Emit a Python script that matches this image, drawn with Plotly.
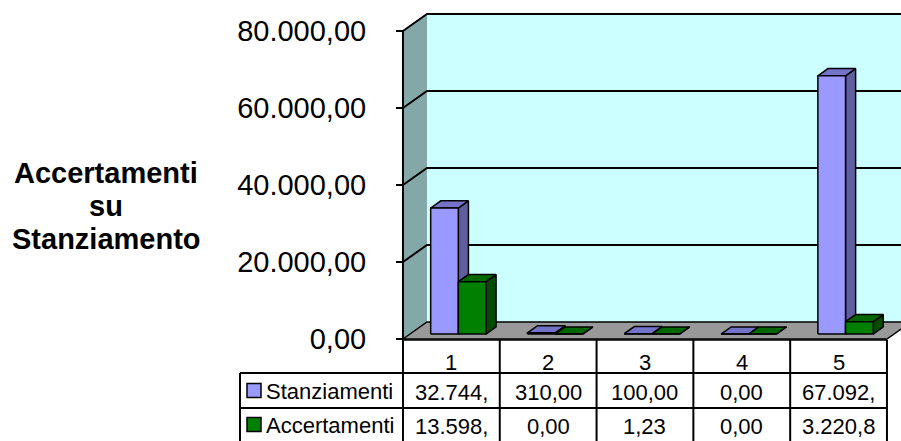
import plotly.graph_objects as go

# =========================
# DATI
# =========================
CATEGORIE = ["1", "2", "3", "4", "5"]
STANZIAMENTI = [32744.0, 310.0, 100.0, 0.0, 67092.0]
ACCERTAMENTI = [13598.0, 0.0, 1.23, 0.0, 3220.8]
ETICHETTE_STANZ = ["32.744,", "310,00", "100,00", "0,00", "67.092,"]
ETICHETTE_ACC = ["13.598,", "0,00", "1,23", "0,00", "3.220,8"]
TICK_VALORI = [0, 20000, 40000, 60000, 80000]
TICK_TESTI = ["0,00", "20.000,00", "40.000,00", "60.000,00", "80.000,00"]
SERIE = ["Stanziamenti", "Accertamenti"]
TITOLO = ["Accertamenti", "su", "Stanziamento"]

# =========================
# STILE
# =========================
FONT = "Liberation Sans, Arial, sans-serif"
COLORI = {
    "Stanziamenti": dict(front="#9999FF", side="#5F5FA0", top="#7373C8"),
    "Accertamenti": dict(front="#008000", side="#004C00", top="#006600"),
}
COR_PARETE = "#CCFFFF"
COR_LATO = "#84A8A8"
COR_PAVIMENTO = "#999999"
LINEA = dict(color="black", width=1.5)
LINEA_TAB = dict(color="black", width=2)

W, H = 901, 441
# assi: x in categorie (larghezza 1), y in valori
X_RANGE = [-4.163, 5.145]
Y_RANGE = [-26494, 88052]
DX, DY = 0.248, 4416          # profondita' della vista 3D
GAP = 1.5                     # gap width stile Excel
PROF = (0.29, 0.71)           # profondita' delle barre


def py(px):
    # posizione verticale in coordinate paper
    return 1 - px / H


def poligoni(facce):
    xs, ys = [], []
    for f in facce:
        for (a, b) in f + [f[0]]:
            xs.append(a)
            ys.append(b)
        xs.append(None)
        ys.append(None)
    return xs, ys


def scatter_poly(facce, colore, linea=LINEA):
    xs, ys = poligoni(facce)
    return go.Scatter(x=xs, y=ys, mode="lines", fill="toself", fillcolor=colore,
                      line=linea, hoverinfo="skip", showlegend=False)


fig = go.Figure()

n = len(CATEGORIE)
vmax = TICK_VALORI[-1]

# pareti e pavimento
fig.add_trace(scatter_poly([[(DX, DY), (n + DX, DY), (n + DX, vmax + DY), (DX, vmax + DY)]],
                           COR_PARETE, dict(width=0)))
fig.add_trace(scatter_poly([[(0, 0), (DX, DY), (DX, vmax + DY), (0, vmax)]],
                           COR_LATO, dict(width=0)))
fig.add_trace(scatter_poly([[(0, 0), (n, 0), (n + DX, DY), (DX, DY)]], COR_PAVIMENTO))

# griglia
gx, gy = [], []
for v in TICK_VALORI[1:]:
    gx += [0, DX, n + DX, None]
    gy += [v, v + DY, v + DY, None]
gx += [0, 0, None]
gy += [0, vmax, None]
fig.add_trace(go.Scatter(x=gx, y=gy, mode="lines", line=dict(color="black", width=2),
                         hoverinfo="skip", showlegend=False))

# barre 3D
w = 1 / (len(SERIE) + GAP)
for s, nome in enumerate(SERIE):
    valori = STANZIAMENTI if s == 0 else ACCERTAMENTI
    front, side, top = [], [], []
    a, b = PROF[0] * DX, PROF[0] * DY
    c, e = PROF[1] * DX, PROF[1] * DY
    for i, v in enumerate(valori):
        x0 = i + GAP / 2 * w + s * w
        x1 = x0 + w
        front.append([(x0 + a, b), (x1 + a, b), (x1 + a, v + b), (x0 + a, v + b)])
        side.append([(x1 + a, b), (x1 + c, e), (x1 + c, v + e), (x1 + a, v + b)])
        top.append([(x0 + a, v + b), (x1 + a, v + b), (x1 + c, v + e), (x0 + c, v + e)])
    fig.add_trace(scatter_poly(side, COLORI[nome]["side"]))
    fig.add_trace(scatter_poly(top, COLORI[nome]["top"]))
    fig.add_trace(scatter_poly(front, COLORI[nome]["front"]))

# =========================
# TABELLA DATI
# =========================
RIGHE = [340, 373, 408, 441]
X_LEG = 240 / W
shapes = []
shapes.append(dict(type="line", xref="x", yref="paper", x0=0, x1=n,
                   y0=py(RIGHE[0]), y1=py(RIGHE[0]), line=LINEA))
for r in RIGHE[1:3]:
    shapes.append(dict(type="line", xref="paper", yref="paper", x0=X_LEG, x1=(403 + n * 96.8) / W,
                       y0=py(r), y1=py(r), line=LINEA_TAB))
for i in range(n + 1):
    shapes.append(dict(type="line", xref="x", yref="paper", x0=i, x1=i,
                       y0=py(RIGHE[0]), y1=py(RIGHE[3]), line=LINEA_TAB))
shapes.append(dict(type="line", xref="paper", yref="paper", x0=X_LEG, x1=X_LEG,
                   y0=py(RIGHE[1]), y1=py(RIGHE[3]), line=LINEA_TAB))

annotations = []
fnt = dict(family=FONT, size=22, color="black")
for i, cat in enumerate(CATEGORIE):
    annotations.append(dict(x=i + 0.5, y=py(362), xref="x", yref="paper", text=cat,
                            showarrow=False, font=fnt, xanchor="center", yanchor="middle"))
    annotations.append(dict(x=i + 0.5, y=py(392), xref="x", yref="paper", text=ETICHETTE_STANZ[i],
                            showarrow=False, font=fnt, xanchor="center", yanchor="middle"))
    annotations.append(dict(x=i + 0.5, y=py(426), xref="x", yref="paper", text=ETICHETTE_ACC[i],
                            showarrow=False, font=fnt, xanchor="center", yanchor="middle"))

for s, nome in enumerate(SERIE):
    yc = (RIGHE[s + 1] + RIGHE[s + 2]) / 2
    shapes.append(dict(type="rect", xref="paper", yref="paper", x0=247 / W, x1=261 / W,
                       y0=py(yc - 7), y1=py(yc + 7), fillcolor=COLORI[nome]["front"],
                       line=dict(color="black", width=1.5)))
    annotations.append(dict(x=264 / W, y=py(yc + 1), xref="paper", yref="paper", text=nome,
                            showarrow=False, font=fnt, xanchor="left", yanchor="middle"))

# titolo asse
for k, riga in enumerate(TITOLO):
    annotations.append(dict(x=106 / W, y=py(173 + k * 33), xref="paper", yref="paper",
                            text="<b>%s</b>" % riga, showarrow=False,
                            font=dict(family=FONT, size=29, color="black"),
                            xanchor="center", yanchor="middle"))

fig.update_layout(
    width=W, height=H, autosize=False,
    margin=dict(l=0, r=0, t=0, b=0),
    paper_bgcolor="white", plot_bgcolor="white",
    xaxis=dict(range=X_RANGE, visible=False, fixedrange=True),
    yaxis=dict(range=Y_RANGE, anchor="free", position=403 / W,
               tickvals=TICK_VALORI, ticktext=TICK_TESTI,
               ticks="outside", ticklen=7, tickwidth=1.5, tickcolor="black",
               ticklabelstandoff=24,
               tickfont=dict(family=FONT, size=29, color="black"),
               showgrid=False, zeroline=False, showline=False, fixedrange=True),
    shapes=shapes,
    annotations=annotations,
    showlegend=False,
)

# la pagina ha un margine di default: lo azzeriamo
fig.write_html("out.html", config={"displayModeBar": False},
               post_script="document.body.style.margin='0';document.body.style.overflow='hidden';")
